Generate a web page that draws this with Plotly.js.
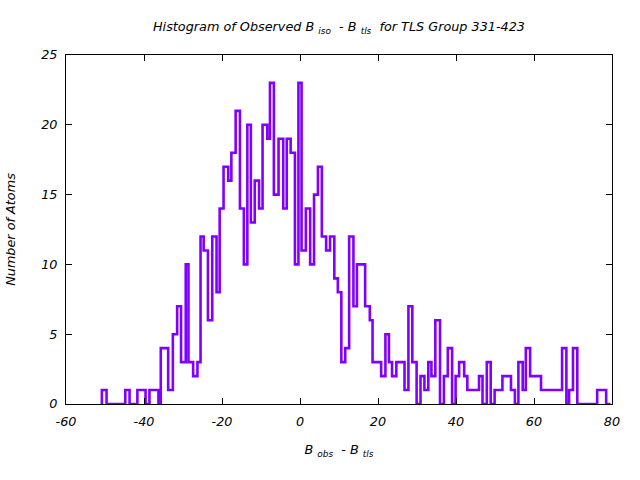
<!DOCTYPE html>
<html><head><meta charset="utf-8">
<script src="https://cdn.plot.ly/plotly-3.0.1.min.js"></script>
<style>html,body{margin:0;padding:0;background:#fff}</style>
</head><body><div id="chart" style="width:640px;height:480px"></div>
<script>
// Left edge of each histogram step (B_obs - B_tls) and the atom count of that step
const binEdges = [-50.8,-49.6,-44.8,-43.7,-41.7,-39.6,-38.6,-36.3,-35.7,-33.8,
  -32.6,-31.5,-30.5,-29.3,-28.6,-27.4,-26.3,-25.5,-24.7,-23.6,
  -22.5,-21.4,-20.6,-19.6,-18.4,-17.6,-16.5,-15.4,-14.4,-13.5,
  -12.6,-11.6,-10.5,-9.6,-8.4,-7.7,-6.7,-5.5,-4.3,-3.4,
  -2.4,-1.3,-0.4,0.4,1.5,2.6,3.6,4.6,5.6,6.7,
  7.7,8.8,9.7,10.6,11.6,12.6,13.7,14.6,16.7,17.9,
  18.6,20.8,21.9,22.8,23.6,24.7,26.8,27.8,28.8,29.9,
  30.9,31.9,32.9,33.7,34.7,35.9,36.9,37.9,39.0,39.9,
  40.8,42.1,42.9,45.9,46.8,47.9,48.9,49.9,51.9,54.1,
  55.1,56.0,57.1,57.9,59.0,61.8,67.2,68.3,69.0,70.0,
  71.1,76.2,78.5];
const binCounts = [1,0,1,0,1,0,1,0,4,1,
  5,7,3,10,3,2,3,12,11,6,
  12,8,14,17,16,18,21,14,10,20,
  13,16,14,20,19,23,15,19,14,19,
  18,10,23,11,14,10,15,17,12,11,
  12,9,8,3,4,12,7,10,7,6,
  3,2,5,3,2,3,1,7,3,0,
  2,1,3,2,6,0,2,4,0,2,
  3,2,1,2,0,3,0,1,2,1,
  0,3,1,4,2,1,4,0,1,4,
  0,1,0];
const lastEdge = 79.6;

const xTickValues = [-60,-40,-20,0,20,40,60,80];
const xTickLabels = ['-60','-40','-20','0','20','40','60','80'];
const yTickValues = [0,5,10,15,20,25];
const yTickLabels = ['0','5','10','15','20','25'];

const xs = [binEdges[0]].concat(binEdges, [lastEdge]);
const ys = [0].concat(binCounts, [binCounts[binCounts.length-1]]);

const FONT = '"DejaVu Sans", sans-serif';
const FS = 12.8;

const trace = {
  type: 'scatter', mode: 'lines', x: xs, y: ys,
  line: {shape: 'hv', color: '#8000ff', width: 2.6},
  hoverinfo: 'skip', showlegend: false
};

const axisCommon = {
  showline: true, linecolor: '#000', linewidth: 1, mirror: 'allticks',
  ticks: 'inside', ticklen: 6, tickcolor: '#000', tickwidth: 1,
  showgrid: false, zeroline: false,
  tickfont: {family: FONT, size: FS, color: '#000', style: 'italic'}
};

const layout = {
  width: 640, height: 480,
  margin: {l: 66, r: 28, t: 55, b: 76},
  paper_bgcolor: '#fff', plot_bgcolor: '#fff',
  title: {
    text: 'Histogram of Observed B <sub>iso</sub>  - B <sub>tls</sub>  for TLS Group 331-423',
    font: {family: FONT, size: FS, color: '#000', style: 'italic'},
    x: 0.5, xref: 'paper', xanchor: 'center', y: 1 - 27/480, yref: 'container', yanchor: 'middle'
  },
  xaxis: Object.assign({}, axisCommon, {
    range: [-60, 80], tickmode: 'array', tickvals: xTickValues, ticktext: xTickLabels,
    ticklabelstandoff: 6,
    title: {text: 'B <sub>obs</sub>  - B <sub>tls</sub>', font: {family: FONT, size: FS, color: '#000', style: 'italic'}, standoff: 16}
  }),
  yaxis: Object.assign({}, axisCommon, {
    range: [0, 25], tickmode: 'array', tickvals: yTickValues, ticktext: yTickLabels,
    ticklabelstandoff: 5,
    title: {text: 'Number of Atoms', font: {family: FONT, size: FS, color: '#000', style: 'italic'}, standoff: 22}
  })
};

Plotly.newPlot('chart', [trace], layout, {displayModeBar: false, staticPlot: true});
</script>
</body></html>
